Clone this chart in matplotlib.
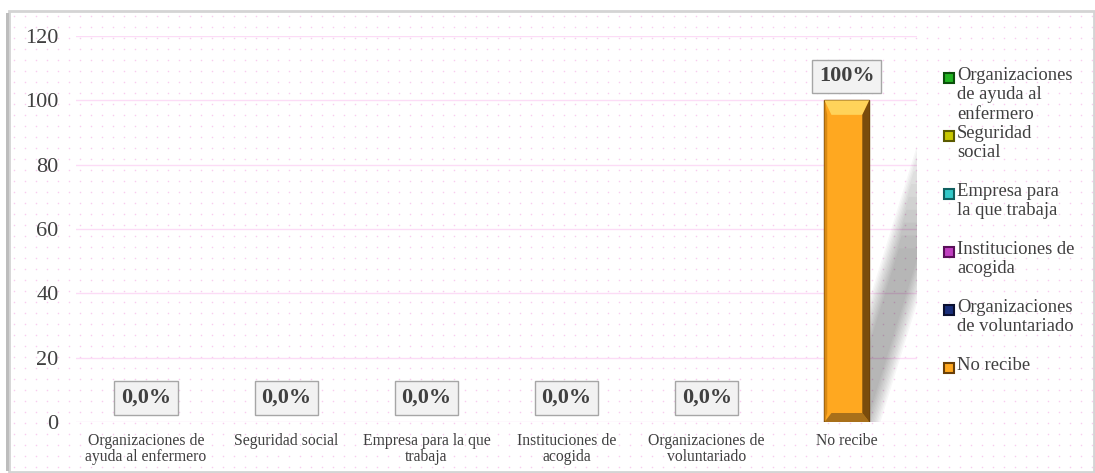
import numpy as np
import matplotlib.pyplot as plt
from matplotlib.patches import Rectangle, Polygon

categories = ['Organizaciones de\nayuda al enfermero', 'Seguridad social',
              'Empresa para la que\ntrabaja', 'Instituciones de\nacogida',
              'Organizaciones de\nvoluntariado', 'No recibe']
legend_labels = ['Organizaciones\nde ayuda al\nenfermero', 'Seguridad\nsocial',
                 'Empresa para\nla que trabaja', 'Instituciones de\nacogida',
                 'Organizaciones\nde voluntariado', 'No recibe']
values = [0, 0, 0, 0, 0, 100]
value_labels = ['0,0%', '0,0%', '0,0%', '0,0%', '0,0%', '100%']
colors = ['#22b422', '#c8c800', '#33c8c8', '#c040c0', '#1a2f7a', '#ffa820']
edges = ['#0a500a', '#5a5a00', '#106060', '#5a105a', '#0a1030', '#6a4008']

plt.rcParams['font.family'] = ['Liberation Serif', 'DejaVu Serif']
text_color = '#404040'

fig = plt.figure(figsize=(10.95, 4.73), dpi=100)

# light dotted background and frame (pixel coords)
bg = fig.add_axes([0, 0, 1, 1], zorder=-5)
bg.set_xlim(0, 1095)
bg.set_ylim(473, 0)
bg.axis('off')
gx, gy = np.meshgrid(np.arange(14, 1095, 11), np.arange(16, 473, 11))
bg.scatter(gx.ravel(), gy.ravel(), s=1.3, color='#f8cdee', linewidths=0)
bg.add_patch(Rectangle((9, 11), 1085, 461, fill=False, edgecolor='#d4d4d4', lw=2))
bg.add_patch(Rectangle((6, 13), 3, 458, color='#bdbdbd', lw=0))

ax = fig.add_axes([0.0694, 0.1078, 0.768, 0.816])
ax.patch.set_alpha(0)
x = np.arange(len(categories))
ax.set_xlim(-0.5, len(categories) - 0.5)
ax.set_ylim(0, 120)
ax.set_yticks(np.arange(0, 121, 20))
ax.yaxis.grid(True, color='#fcdcf6', lw=1)
ax.set_axisbelow(True)
for s in ax.spines.values():
    s.set_visible(False)
ax.tick_params(length=0)
ax.tick_params(axis='y', labelsize=16, labelcolor=text_color, pad=12.5)
ax.tick_params(axis='x', labelsize=11.3, labelcolor=text_color, pad=8)
ax.set_xticks(x)
ax.set_xticklabels(categories, linespacing=1.0)

bw = 0.32
# soft diagonal shadow behind the non-zero bar
for i, v in enumerate(values):
    if v <= 0:
        continue
    top = v * 0.9
    for k in range(10):
        sh = k * 0.011
        t = top - 4 * k
        poly = Polygon([(i - 0.11 + sh, 0), (i + 0.24 - sh, 0),
                        (i + 0.24 - sh + t * 0.0071, t), (i - 0.11 + sh + t * 0.0071, t)],
                       closed=True, color='black', alpha=0.03, lw=0, zorder=1)
        ax.add_patch(poly)

bars = ax.bar(x, values, width=bw, color=colors, edgecolor=edges,
              lw=[1.0 if v > 0 else 0 for v in values], zorder=2)
for i, v in enumerate(values):
    if v <= 0:
        continue
    L, R = i - bw / 2, i + bw / 2
    # bevel highlights
    ax.add_patch(Polygon([(L, v), (R, v), (R - 0.05, v - 4.5), (L + 0.05, v - 4.5)],
                         color='#ffd35a', lw=0, zorder=3))
    ax.add_patch(Polygon([(L, 0), (R, 0), (R - 0.05, 2.8), (L + 0.05, 2.8)],
                         color='#a8701a', lw=0, zorder=3))
    ax.add_patch(Polygon([(R, 0), (R, v), (R - 0.05, v - 4.5), (R - 0.05, 2.8)],
                         color='#7a4c0c', lw=0, zorder=3))
    ax.add_patch(Polygon([(L, 0), (L, v), (L + 0.02, v - 4.5), (L + 0.02, 2.8)],
                         color='#d88a14', lw=0, zorder=3))

for i, (v, lab) in enumerate(zip(values, value_labels)):
    ax.text(i, v + 7.5, lab, ha='center', va='center', fontsize=16, fontweight='bold',
            color=text_color, zorder=4,
            bbox=dict(boxstyle='square,pad=0.3', fc='#f2f2f2', ec='#a6a6a6', lw=1))

# legend with fixed-height slots
for k, (lab, c, e) in enumerate(zip(legend_labels, colors, edges)):
    yc = 78 + 58 * k
    bg.add_patch(Rectangle((944, yc - 5), 10, 10, facecolor=c, edgecolor=e, lw=1.5))
    bg.text(957, yc - 11, lab, ha='left', va='top', fontsize=13.4, color=text_color,
            linespacing=1.18)

fig.savefig('out.png', dpi=100)
